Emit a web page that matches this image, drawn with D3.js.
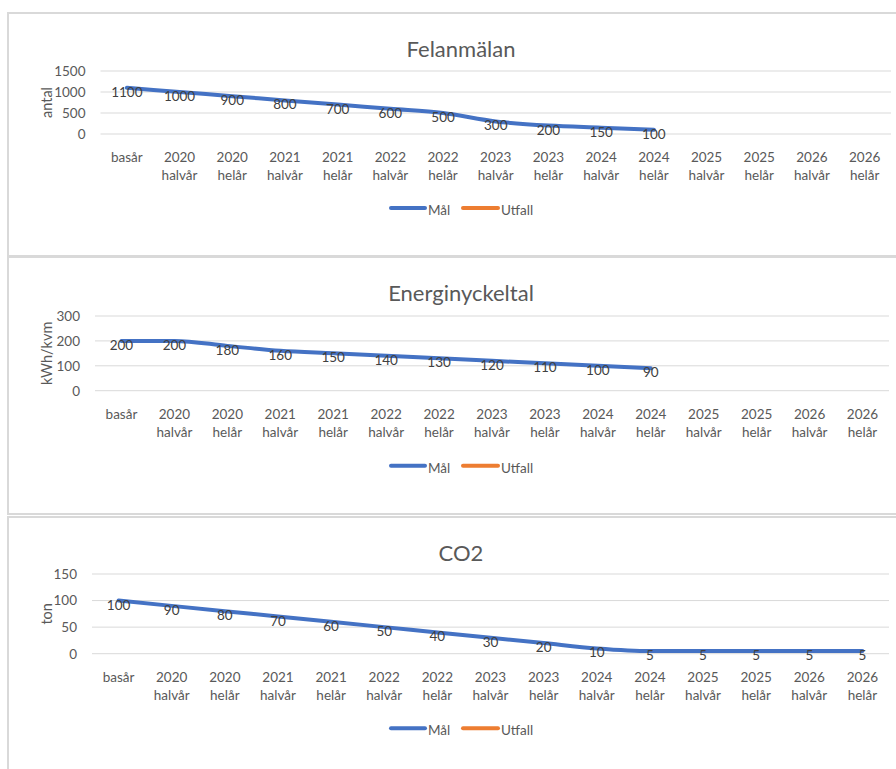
<!DOCTYPE html>
<html><head><meta charset="utf-8">
<script src="https://cdn.jsdelivr.net/npm/d3@7"></script>
<style>body{margin:0;background:#fff}svg{display:block}</style>
</head><body>
<script>
// ---- data ----
const categories = ["basår","2020 halvår","2020 helår","2021 halvår","2021 helår","2022 halvår","2022 helår","2023 halvår","2023 helår","2024 halvår","2024 helår","2025 halvår","2025 helår","2026 halvår","2026 helår"];
const felanmalanMal = [1100,1000,900,800,700,600,500,300,200,150,100,null,null,null,null];
const felanmalanUtfall = [null,null,null,null,null,null,null,null,null,null,null,null,null,null,null];
const energiMal = [200,200,180,160,150,140,130,120,110,100,90,null,null,null,null];
const energiUtfall = [null,null,null,null,null,null,null,null,null,null,null,null,null,null,null];
const co2Mal = [100,90,80,70,60,50,40,30,20,10,5,5,5,5,5];
const co2Utfall = [null,null,null,null,null,null,null,null,null,null,null,null,null,null,null];
const felanmalanTicks = [0,500,1000,1500];
const energiTicks = [0,100,200,300];
const co2Ticks = [0,50,100,150];
const seriesNames = ["Mål","Utfall"];

const W = 896, H = 769;
const svg = d3.select("body").append("svg").attr("width", W).attr("height", H);
const FONT = "Lato, 'Open Sans', sans-serif";
const blue = "#4472C4", orange = "#ED7D31";

const charts = [
  {title:"Felanmälan", yLabel:"antal", mal:felanmalanMal, utfall:felanmalanUtfall, ticks:felanmalanTicks,
   box:{x:8,y:13,w:907,h:243}, plot:{l:100.5,r:891,top:71,bottom:134}, titleY:48, legendY:208},
  {title:"Energinyckeltal", yLabel:"kWh/kvm", mal:energiMal, utfall:energiUtfall, ticks:energiTicks,
   box:{x:8,y:257,w:907,h:257}, plot:{l:95,r:889,top:316,bottom:390.7}, titleY:292.7, legendY:465.7},
  {title:"CO2", yLabel:"ton", mal:co2Mal, utfall:co2Utfall, ticks:co2Ticks,
   box:{x:8,y:517,w:907,h:280}, plot:{l:92,r:889,top:574,bottom:653.7}, titleY:552.7, legendY:728.3}
];

charts.forEach(c => {
  const g = svg.append("g");
  g.append("rect").attr("x",c.box.x).attr("y",c.box.y).attr("width",c.box.w).attr("height",c.box.h)
    .attr("fill","#fff").attr("stroke","#d9d9d9").attr("stroke-width",2);

  const x = d3.scaleBand().domain(categories).range([c.plot.l, c.plot.r]);
  const y = d3.scaleLinear().domain([c.ticks[0], c.ticks[c.ticks.length-1]]).range([c.plot.bottom, c.plot.top]);

  g.selectAll(".grid").data(c.ticks).enter().append("line")
    .attr("x1",c.plot.l).attr("x2",c.plot.r).attr("y1",d=>y(d)).attr("y2",d=>y(d))
    .attr("stroke","#d9d9d9").attr("stroke-width",1);

  const yAxis = d3.axisLeft(y).tickValues(c.ticks).tickSize(0).tickPadding(15).tickFormat(d3.format("d"));
  const ya = g.append("g").attr("transform",`translate(${c.plot.l},0)`).call(yAxis);
  ya.select(".domain").remove();
  ya.selectAll("text").attr("font-family",FONT).attr("font-size",13.5).attr("fill","#595959");

  const xa = g.append("g");
  categories.forEach(cat => {
    const parts = cat.split(" ");
    const cx = x(cat)+x.bandwidth()/2;
    const t = xa.append("text").attr("x", cx).attr("y", c.plot.bottom+23)
      .attr("text-anchor","middle").attr("dominant-baseline","central")
      .attr("font-family",FONT).attr("font-size",13.5).attr("fill","#595959");
    parts.forEach((p,i)=> t.append("tspan").attr("x", cx).attr("dy", i===0?0:18).text(p));
  });

  g.append("text").attr("x",461).attr("y",c.titleY).attr("text-anchor","middle").attr("dominant-baseline","central")
    .attr("font-family",FONT).attr("font-size",22).attr("fill","#595959").text(c.title);

  g.append("text").attr("transform",`translate(46,${(c.plot.top+c.plot.bottom)/2}) rotate(-90)`)
    .attr("text-anchor","middle").attr("dominant-baseline","central")
    .attr("font-family",FONT).attr("font-size",14.5).attr("fill","#595959").text(c.yLabel);

  const pts = categories.map((cat,i)=>({cat, v:c.mal[i]}));
  const line = d3.line().defined(d=>d.v!=null).x(d=>x(d.cat)+x.bandwidth()/2).y(d=>y(d.v)).curve(d3.curveMonotoneX);
  g.append("path").datum(pts).attr("d",line).attr("fill","none").attr("stroke",blue).attr("stroke-width",4).attr("stroke-linecap","round");
  const upts = categories.map((cat,i)=>({cat, v:c.utfall[i]}));
  g.append("path").datum(upts).attr("d",line).attr("fill","none").attr("stroke",orange).attr("stroke-width",4).attr("stroke-linecap","round");

  g.selectAll(".lbl").data(pts.filter(d=>d.v!=null)).enter().append("text")
    .attr("x",d=>x(d.cat)+x.bandwidth()/2).attr("y",d=>y(d.v)+4)
    .attr("text-anchor","middle").attr("dominant-baseline","central")
    .attr("font-family",FONT).attr("font-size",13.5).attr("fill","#404040").text(d=>d.v);

  const lg = g.append("g");
  const items = [{n:seriesNames[0], col:blue, x1:391, x2:425},{n:seriesNames[1], col:orange, x1:463, x2:498}];
  items.forEach(it=>{
    lg.append("line").attr("x1",it.x1).attr("x2",it.x2).attr("y1",c.legendY).attr("y2",c.legendY)
      .attr("stroke",it.col).attr("stroke-width",4).attr("stroke-linecap","round");
    lg.append("text").attr("x",it.x2+3).attr("y",c.legendY+2).attr("dominant-baseline","central")
      .attr("font-family",FONT).attr("font-size",13.5).attr("fill","#595959").text(it.n);
  });
});
</script>
</body></html>
